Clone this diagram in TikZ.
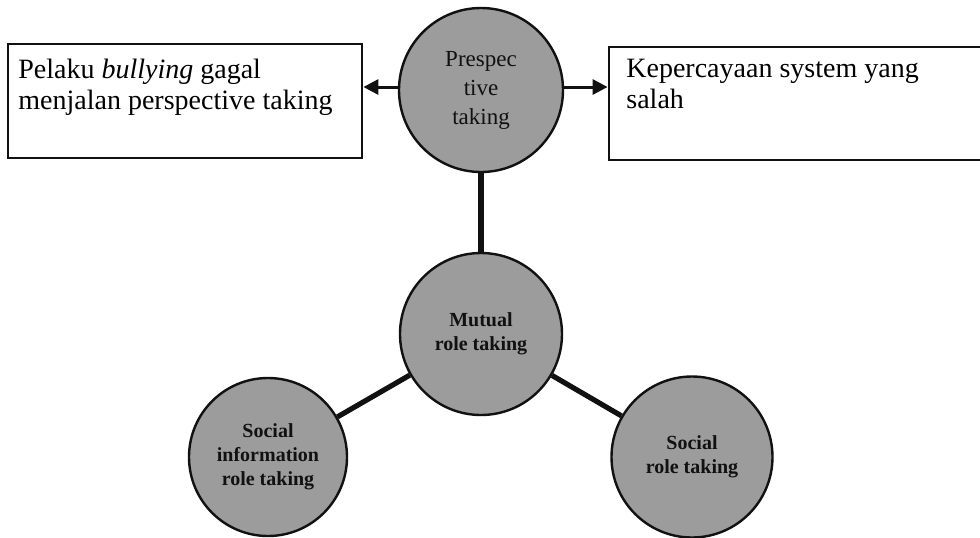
\documentclass[tikz,border=0pt]{standalone}
\usepackage{fontspec}
\setmainfont{Liberation Serif}
\usetikzlibrary{positioning, calc, arrows.meta}
\definecolor{Ink}{HTML}{111111}
\definecolor{Disc}{HTML}{9C9C9C}
\tikzset{
    roundnode/.style={circle, draw=Ink, line width=1.2pt, fill=Disc, text=Ink, align=center, inner sep=0pt, minimum size=81pt},
    topfont/.style={font=\fontsize{11.5}{14.5}\selectfont},
    lowfont/.style={font=\bfseries\fontsize{10}{12}\selectfont},
    framebox/.style={rectangle, draw=Ink, line width=1.4pt, inner sep=0pt},
    boxtext/.style={align=left, font=\fontsize{14}{15.5}\selectfont, inner sep=0pt, anchor=north west},
    arrow/.style={-{Triangle[length=7.5pt, width=7.5pt]}, line width=1.5pt, color=Ink},
    link/.style={line width=2.6pt, color=Ink},
}

\begin{document}
\begin{tikzpicture}[x=0.5pt, y=-0.5pt]
    \useasboundingbox (0,0) rectangle (980,537);

    % Lingkaran atas
    \node[roundnode, topfont, minimum size=82pt] (ptake) at (481, 90) {Prespec\\tive\\taking};

    % Kotak kiri dan kanan
    \node[framebox, minimum width=177pt, minimum height=57pt] (lbox) at (185, 101) {};
    \node[boxtext] (ltext) at (18, 59) {Pelaku \textit{bullying} gagal\\menjalan perspective taking};
    \node[framebox, minimum width=190pt, minimum height=56.5pt] (rbox) at (799, 103.5) {};
    \node[boxtext] (rtext) at (626, 59) {Kepercayaan system yang\\salah};

    \draw[arrow] ([yshift=1.5pt]ptake.west) -- ([yshift=1.5pt]ptake.west -| lbox.east);
    \draw[arrow] ([yshift=1.5pt]ptake.east) -- ([yshift=1.5pt]ptake.east -| rbox.west);

    % Lingkaran bawah
    \node[roundnode, lowfont] (mutual) at (481, 334) {Mutual\\role taking};
    \node[roundnode, lowfont, minimum size=79pt] (sinfo) at (268, 457) {Social\\information\\role taking};
    \node[roundnode, lowfont, minimum size=80.5pt] (srole) at (692, 457) {Social\\role taking};

    % Garis penghubung
    \draw[link] (ptake) -- (mutual);
    \draw[link] (mutual) -- (sinfo);
    \draw[link] (mutual) -- (srole);
\end{tikzpicture}
\end{document}
